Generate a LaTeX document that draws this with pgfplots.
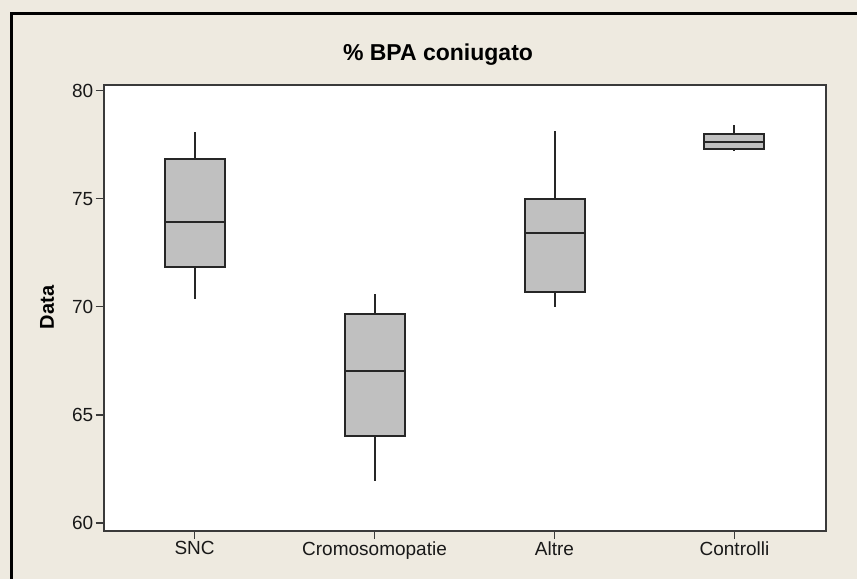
\documentclass[border=0pt]{standalone}
\usepackage{fontspec}
\setmainfont{Liberation Sans}
\usepackage{pgfplots}
\pgfplotsset{compat=1.18}
\definecolor{bg}{HTML}{EEEAE0}
\definecolor{boxgray}{HTML}{C0C0C0}
\definecolor{framegray}{HTML}{3A3A3A}
\pgfplotsset{
  boxst/.style={fill=boxgray, draw=black!85, line width=2bp, line cap=rect, line join=miter},
  linest/.style={draw=black!85, line width=2bp},
}
\begin{document}
\begin{tikzpicture}
\useasboundingbox (0,0) rectangle (857bp,-579bp);
\fill[bg] (0,0) rectangle (857bp,-579bp);
\draw[black, line width=2.6bp] (11.5bp,-579bp) -- (11.5bp,-13.5bp) -- (857bp,-13.5bp);
\begin{axis}[
  at={(103.5bp,-530.5bp)}, anchor=south west,
  width=722.2bp, height=445.5bp, scale only axis,
  xmin=0.494, xmax=4.507, ymin=59.64, ymax=80.26,
  axis background/.style={fill=white},
  axis line style={framegray, line width=2bp},
  xtick={1,2,3,4},
  xticklabels={SNC,Cromosomopatie,Altre,Controlli},
  ytick={60,65,70,75,80},
  tick align=outside, major tick length=8bp,
  tick style={framegray, line width=1.6bp},
  xtick pos=bottom, ytick pos=left,
  /pgf/number format/assume math mode=true,
  ticklabel style={font=\fontsize{19bp}{21bp}\selectfont, text=black!90},
  yticklabel style={inner sep=2bp},
  xticklabel style={inner sep=3bp},
  clip=false,
]
% SNC: whiskers 70.37 / 78.10, quartiles 71.85 / 76.82, median 73.92
\addplot[linest] coordinates {(1,76.82) (1,78.10)};
\addplot[linest] coordinates {(1,71.85) (1,70.37)};
\addplot[boxst] coordinates {(0.8333,71.85) (1.1667,71.85) (1.1667,76.82) (0.8333,76.82) (0.8333,71.85)};
\addplot[linest] coordinates {(0.8333,73.92) (1.1667,73.92)};
% Cromosomopatie: whiskers 61.94 / 70.57, quartiles 64.01 / 69.65, median 67.04
\addplot[linest] coordinates {(2,69.65) (2,70.57)};
\addplot[linest] coordinates {(2,64.01) (2,61.94)};
\addplot[boxst] coordinates {(1.8333,64.01) (2.1667,64.01) (2.1667,69.65) (1.8333,69.65) (1.8333,64.01)};
\addplot[linest] coordinates {(1.8333,67.04) (2.1667,67.04)};
% Altre: whiskers 70.00 / 78.15, quartiles 70.67 / 74.97, median 73.43
\addplot[linest] coordinates {(3,74.97) (3,78.15)};
\addplot[linest] coordinates {(3,70.67) (3,70.00)};
\addplot[boxst] coordinates {(2.8333,70.67) (3.1667,70.67) (3.1667,74.97) (2.8333,74.97) (2.8333,70.67)};
\addplot[linest] coordinates {(2.8333,73.43) (3.1667,73.43)};
% Controlli: whiskers 77.21 / 78.40, quartiles 77.30 / 78.01, median 77.64
\addplot[linest] coordinates {(4,78.01) (4,78.40)};
\addplot[linest] coordinates {(4,77.30) (4,77.21)};
\addplot[boxst] coordinates {(3.8333,77.30) (4.1667,77.30) (4.1667,78.01) (3.8333,78.01) (3.8333,77.30)};
\addplot[linest] coordinates {(3.8333,77.64) (4.1667,77.64)};
\end{axis}
\node[font=\bfseries\fontsize{23bp}{25bp}\selectfont] at (438bp,-55bp) {\% BPA coniugato};
\node[font=\bfseries\fontsize{20bp}{22bp}\selectfont, rotate=90] at (47bp,-307.5bp) {Data};
\end{tikzpicture}
\end{document}
